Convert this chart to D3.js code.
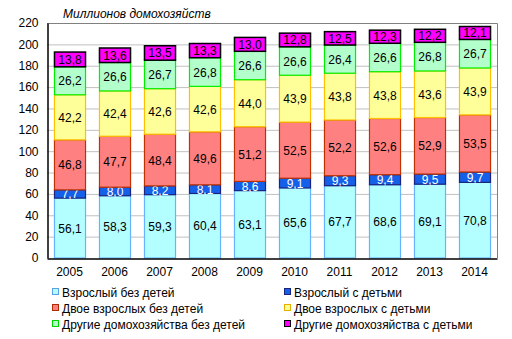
<!DOCTYPE html>
<html><head><meta charset="utf-8">
<script src="https://cdn.jsdelivr.net/npm/d3@7"></script>
<style>body{margin:0;background:#fff}svg{display:block;font-family:Arial,"Liberation Sans",sans-serif}</style>
</head><body><svg id="c" width="512" height="339"></svg>
<script>
const years = ["2005","2006","2007","2008","2009","2010","2011","2012","2013","2014"];
const seriesNames = ["Взрослый без детей","Взрослый с детьми","Двое взрослых без детей","Двое взрослых с детьми","Другие домохозяйства без детей","Другие домохозяйства с детьми"];
const adultNoKids = [56.1,58.3,59.3,60.4,63.1,65.6,67.7,68.6,69.1,70.8];
const adultKids = [7.7,8.0,8.2,8.1,8.6,9.1,9.3,9.4,9.5,9.7];
const twoNoKids = [46.8,47.7,48.4,49.6,51.2,52.5,52.2,52.6,52.9,53.5];
const twoKids = [42.2,42.4,42.6,42.6,44.0,43.9,43.8,43.8,43.6,43.9];
const otherNoKids = [26.2,26.6,26.7,26.8,26.6,26.6,26.4,26.6,26.8,26.7];
const otherKids = [13.8,13.6,13.5,13.3,13.0,12.8,12.5,12.3,12.2,12.1];
const yTicks = [0,20,40,60,80,100,120,140,160,180,200,220];
const title = "Миллионов домохозяйств";

const seriesData = [adultNoKids,adultKids,twoNoKids,twoKids,otherNoKids,otherKids];
const fills = ["#b3ffff","#1560e8","#ff8080","#ffff99","#b3ffcc","#ff00ff"];
const strokes = ["#66b3ff","#1a237e","#c03000","#ffc000","#00ee00","#000000"];
const textCol = ["#000","#fff","#000","#000","#000","#000"];

const svg = d3.select("#c");
const L=47,R=497,T=23,B=258;
const x = d3.scaleBand().domain(years).range([L,R]).paddingInner(0.31).paddingOuter(0.155);
const y = d3.scaleLinear().domain([0,220]).range([B,T]);

// grid
svg.append("g").selectAll("line").data(yTicks.filter(d=>d>0)).join("line")
  .attr("x1",L).attr("x2",R).attr("y1",d=>y(d)+0.5).attr("y2",d=>y(d)+0.5)
  .attr("stroke","#c0c0c0").attr("stroke-width",1);
svg.append("path").attr("d",`M${L},${T+0.5}H${R+0.5}V${B}`).attr("fill","none").attr("stroke","#808080");

const table = years.map((yr,i)=>{const o={year:yr};seriesNames.forEach((s,k)=>o[s]=seriesData[k][i]);return o;});
const stack = d3.stack().keys(seriesNames)(table);

stack.forEach((layer,k)=>{
  const g = svg.append("g");
  g.selectAll("rect").data(layer).join("rect")
    .attr("x",d=>x(d.data.year)+0.5).attr("width",x.bandwidth())
    .attr("y",d=>y(d[1])).attr("height",d=>y(d[0])-y(d[1]))
    .attr("fill",fills[k]).attr("stroke",strokes[k]).attr("stroke-width",k==5?1.5:1.2);
  g.selectAll("text").data(layer).join("text")
    .attr("x",d=>x(d.data.year)+x.bandwidth()/2+0.5).attr("y",d=>(y(d[0])+y(d[1]))/2+4.5)
    .attr("text-anchor","middle").attr("font-size",12).attr("fill",textCol[k])
    .text(d=>(d[1]-d[0]).toFixed(1).replace(".",","));
});

// axes
const ya = svg.append("g").attr("transform",`translate(${L+0.5},0)`)
  .call(d3.axisLeft(y).tickValues(yTicks).tickSize(0).tickPadding(9));
ya.select(".domain").attr("stroke","#000").attr("stroke-width",1.5);
ya.selectAll("text").attr("font-size",12).attr("fill","#000").attr("font-family","Arial,'Liberation Sans',sans-serif");
const xa = svg.append("g").attr("transform",`translate(0,${B+0.5})`)
  .call(d3.axisBottom(x).tickSize(0).tickPadding(9));
xa.select(".domain").attr("stroke","#000").attr("stroke-width",1.5);
xa.selectAll("text").attr("font-size",12).attr("fill","#000").attr("font-family","Arial,'Liberation Sans',sans-serif");

svg.append("text").attr("x",63).attr("y",18).attr("font-size",12).attr("font-style","italic").text(title);

// legend
const lx=[53,285], ly=[297,313,329];
seriesNames.forEach((s,k)=>{
  const cx=lx[k%2], cy=ly[Math.floor(k/2)];
  svg.append("rect").attr("x",cx-0.5).attr("y",cy-8.5).attr("width",6).attr("height",6)
    .attr("fill",fills[k]).attr("stroke",k==5?"#000":strokes[k]==="#1a237e"?"#1a237e":d3.color(strokes[k]).darker(0.3));
  svg.append("text").attr("x",cx+9).attr("y",cy).attr("font-size",12).text(s);
});
</script></body></html>
